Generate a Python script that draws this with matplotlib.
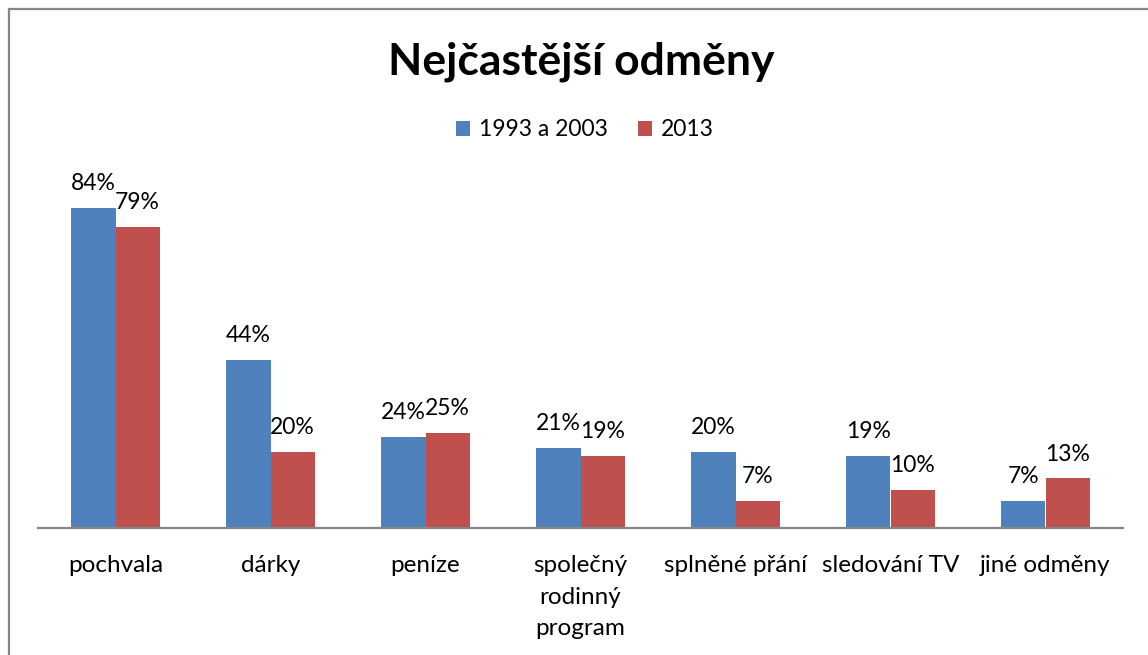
import numpy as np
import matplotlib
matplotlib.use("Agg")
import matplotlib.pyplot as plt
from matplotlib.patches import Rectangle

# Data
categories = ["pochvala", "dárky", "peníze", "společný\nrodinný\nprogram",
              "splněné přání", "sledování TV", "jiné odměny"]
values_old = [84, 44, 24, 21, 20, 19, 7]
values_new = [79, 20, 25, 19, 7, 10, 13]
series_names = ["1993 a 2003", "2013"]
title = "Nejčastější odměny"

BLUE = "#4F81BD"
RED = "#C0504D"

plt.rcParams["font.family"] = ["Lato", "DejaVu Sans"]

W, H = 1148, 655
fig = plt.figure(figsize=(W / 100, H / 100), dpi=100)

# axes placed in pixel terms: baseline at y=528, plot from x=38 to x=1123
ymax = 90
px_per = 3.81
top_px = 528 - ymax * px_per
ax = fig.add_axes([38 / W, (H - 528) / H, (1123 - 38) / W, (528 - top_px) / H])

x = np.arange(len(categories))
bw = 0.284
b1 = ax.bar(x - bw / 2, values_old, bw, color=BLUE, label=series_names[0])
b2 = ax.bar(x + bw / 2, values_new, bw, color=RED, label=series_names[1])

for bars, vals in [(b1, values_old), (b2, values_new)]:
    for r, v in zip(bars, vals):
        ax.annotate(f"{v}%", (r.get_x() + r.get_width() / 2, v),
                    xytext=(0, 10), textcoords="offset points",
                    ha="center", va="bottom", fontsize=16.5, color="black")

ax.set_xlim(-0.5, len(categories) - 0.5)
ax.set_ylim(0, ymax)
ax.set_yticks([])
ax.set_xticks([])
for s in ["top", "right", "left"]:
    ax.spines[s].set_visible(False)
ax.spines["bottom"].set_color("#868686")
ax.spines["bottom"].set_linewidth(1.6)

# category labels below baseline
label_y = -(555 - 528) / (528 - top_px)
for xi, lab in zip(x, categories):
    ax.text(xi, label_y, lab, transform=ax.get_xaxis_transform(),
            ha="center", va="top", fontsize=17.5, linespacing=1.62)

fig.text(581 / W, 1 - 62 / H, title, ha="center", va="center",
         fontsize=32, fontweight="bold")

fig.legend(handles=[b1, b2], labels=series_names, loc="center",
           bbox_to_anchor=(585 / W, 1 - 130 / H), ncol=2, frameon=False,
           fontsize=16.5, handlelength=0.6, handleheight=0.6,
           handletextpad=0.4, columnspacing=1.3)

# outer chart border (only left and top visible in the crop)
fig.patches.append(Rectangle((8.5 / W, -0.2), 1.5, 1.2 - 8.5 / H,
                             transform=fig.transFigure, fill=False,
                             edgecolor="#878787", linewidth=1.6))

fig.savefig("out.png", dpi=100, facecolor="white")
